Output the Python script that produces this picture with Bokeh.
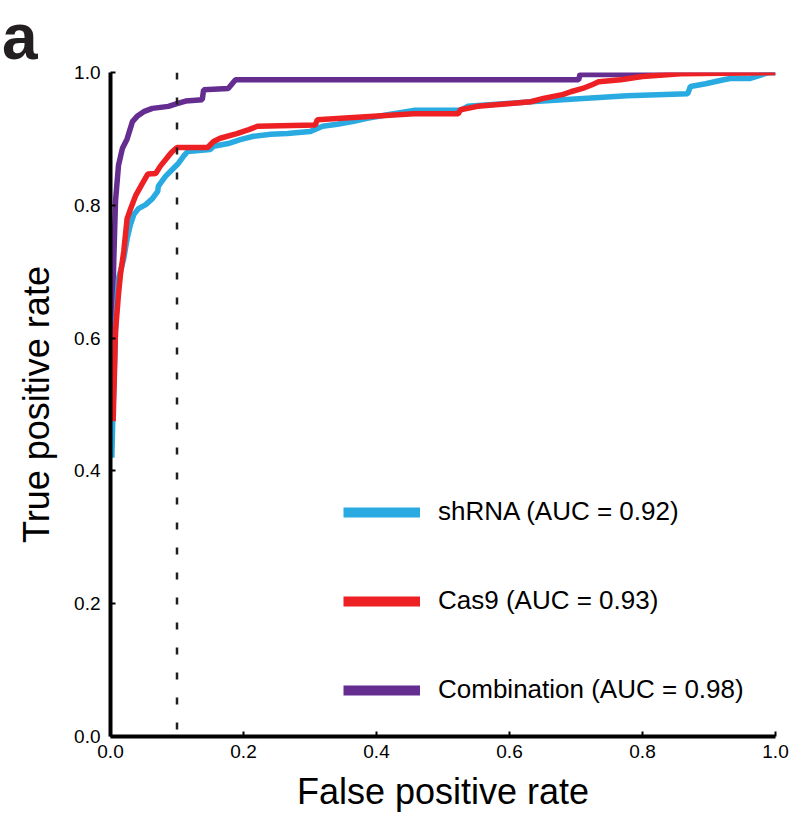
from bokeh.plotting import figure
from bokeh.models import Range1d, FixedTicker, Span, Label, Legend, LegendItem
from bokeh.embed import file_html
from bokeh.resources import INLINE

# ---- data ----
shrna_fpr = [0.002, 0.004, 0.006, 0.0075, 0.010, 0.012, 0.020, 0.025, 0.030, 0.035, 0.042, 0.053,
             0.063, 0.071, 0.072, 0.083, 0.093, 0.102, 0.110, 0.116, 0.150, 0.155, 0.177, 0.195,
             0.215, 0.241, 0.266, 0.300, 0.319, 0.341, 0.364, 0.386, 0.421, 0.456, 0.526, 0.537,
             0.632, 0.777, 0.868, 0.872, 0.895, 0.922, 0.932, 0.962, 0.990, 1.000]
shrna_tpr = [0.420, 0.500, 0.560, 0.610, 0.660, 0.690, 0.720, 0.750, 0.771, 0.786, 0.795, 0.801,
             0.810, 0.821, 0.829, 0.844, 0.854, 0.863, 0.874, 0.881, 0.884, 0.889, 0.893, 0.899,
             0.904, 0.907, 0.908, 0.911, 0.919, 0.922, 0.926, 0.931, 0.937, 0.943, 0.943, 0.949,
             0.956, 0.965, 0.968, 0.979, 0.983, 0.989, 0.991, 0.991, 1.000, 1.000]

cas9_fpr = [0.004, 0.006, 0.0075, 0.012, 0.015, 0.020, 0.025, 0.030, 0.038, 0.048, 0.056, 0.068,
            0.075, 0.087, 0.093, 0.100, 0.146, 0.155, 0.165, 0.190, 0.208, 0.221, 0.308, 0.311,
            0.456, 0.523, 0.526, 0.552, 0.597, 0.632, 0.651, 0.681, 0.692, 0.710, 0.725, 0.734,
            0.767, 0.800, 0.857, 1.000]
cas9_tpr = [0.475, 0.550, 0.610, 0.666, 0.696, 0.731, 0.780, 0.794, 0.815, 0.833, 0.847, 0.848,
            0.859, 0.874, 0.881, 0.887, 0.887, 0.896, 0.901, 0.908, 0.914, 0.919, 0.921, 0.929,
            0.938, 0.938, 0.944, 0.949, 0.953, 0.956, 0.961, 0.967, 0.971, 0.976, 0.982, 0.986,
            0.989, 0.994, 0.998, 1.000]

combo_fpr = [0.002, 0.004, 0.005, 0.0075, 0.012, 0.018, 0.025, 0.033, 0.040, 0.050, 0.063, 0.087,
             0.100, 0.113, 0.138, 0.140, 0.177, 0.188, 0.704, 0.706, 0.830, 0.832, 1.000]
combo_tpr = [0.550, 0.680, 0.720, 0.806, 0.860, 0.886, 0.900, 0.926, 0.934, 0.941, 0.946, 0.949,
             0.953, 0.957, 0.959, 0.974, 0.976, 0.989, 0.989, 0.997, 0.997, 1.000, 1.000]

series_labels = ["shRNA (AUC = 0.92)", "Cas9 (AUC = 0.93)", "Combination (AUC = 0.98)"]
tick_values = [0.0, 0.2, 0.4, 0.6, 0.8, 1.0]
tick_labels = ["0.0", "0.2", "0.4", "0.6", "0.8", "1.0"]
fpr_cutoff = 0.1
panel_letter = "a"

BLUE = "#29ABE2"
RED = "#ED2024"
PURPLE = "#662D91"
FONT = "Liberation Sans"
NAN = float("nan")

p = figure(width=791, height=814, x_range=Range1d(0, 1), y_range=Range1d(0, 1),
           output_backend="svg", toolbar_location=None,
           min_border_left=110, min_border_right=16, min_border_top=70, min_border_bottom=78)
p.outline_line_color = None
p.grid.visible = False
p.background_fill_color = "white"

for ax in (p.xaxis[0], p.yaxis[0]):
    ax.ticker = FixedTicker(ticks=tick_values)
    ax.major_label_overrides = {v: l for v, l in zip(tick_values, tick_labels)}
    ax.axis_line_width = 4
    ax.axis_line_color = "black"
    ax.major_tick_in = 5
    ax.major_tick_out = 0
    ax.major_tick_line_width = 2
    ax.minor_tick_line_color = None
    ax.major_label_text_font = FONT
    ax.major_label_text_font_size = "19px"
    ax.major_label_text_color = "black"
    ax.axis_label_text_font = FONT
    ax.axis_label_text_font_size = "36px"
    ax.axis_label_text_font_style = "normal"
    ax.axis_label_text_color = "black"

p.xaxis.axis_label = "False positive rate"
p.yaxis.axis_label = "True positive rate"
p.xaxis.major_label_standoff = 8
p.yaxis.major_label_standoff = 10
p.xaxis.axis_label_standoff = 10
p.yaxis.axis_label_standoff = 14

p.add_layout(Span(location=fpr_cutoff, dimension="height", line_color="#231F20",
                  line_width=2.5, line_dash="7 18"))

p.line(combo_fpr, combo_tpr, line_color=PURPLE, line_width=5.5)
p.line(shrna_fpr, shrna_tpr, line_color=BLUE, line_width=5.5)
p.line(cas9_fpr, cas9_tpr, line_color=RED, line_width=5.5)

# legend swatches (thicker lines, like the reference); NaN keeps them off the plot
lg_b = p.line([NAN], [NAN], line_color=BLUE, line_width=10)
lg_r = p.line([NAN], [NAN], line_color=RED, line_width=10)
lg_p = p.line([NAN], [NAN], line_color=PURPLE, line_width=10)

legend = Legend(items=[LegendItem(label=series_labels[0], renderers=[lg_b]),
                       LegendItem(label=series_labels[1], renderers=[lg_r]),
                       LegendItem(label=series_labels[2], renderers=[lg_p])],
                location=(233, 31), orientation="vertical",
                glyph_width=77, glyph_height=20, label_height=20, spacing=58,
                label_standoff=18, padding=0, margin=0,
                border_line_color=None, background_fill_alpha=0,
                label_text_font=FONT, label_text_font_size="26px", label_text_color="black")
p.add_layout(legend, "center")

p.add_layout(Label(x=-0.163, y=1.054, text=panel_letter, text_font=FONT,
                   text_font_size="64px", text_font_style="bold", text_color="#231F20",
                   text_align="left", text_baseline="alphabetic"), "above")

open("out.html", "w").write(file_html(p, INLINE))
